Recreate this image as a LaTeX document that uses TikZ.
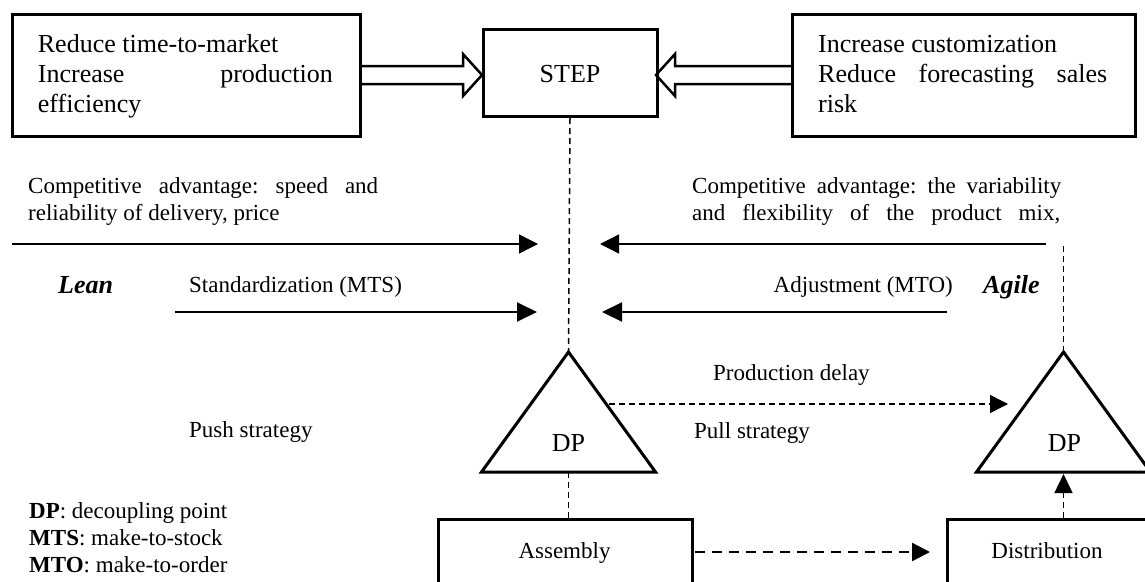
\documentclass[tikz,border=0pt]{standalone}
\usepackage{fontspec}
\setmainfont{Liberation Serif}
\frenchspacing
\usetikzlibrary{arrows.meta,calc}
\begin{document}
\begin{tikzpicture}[x=1pt,y=-1pt,
  frame/.style={draw, line width=3pt, inner sep=0pt, anchor=north west},
  big/.style={font=\fontsize{26}{30}\selectfont, inner sep=0pt},
  small/.style={font=\fontsize{23}{27}\selectfont, inner sep=0pt},
  bolditl/.style={font=\fontsize{26}{30}\selectfont\bfseries\itshape, inner sep=0pt},
  bw/.style={anchor=base west},
  blockarrow/.style={line width=2.5pt, line join=miter},
  thinarrow/.style={line width=1.4pt, -{Triangle[length=19pt,width=19pt]}},
  thickarrow/.style={line width=2pt, -{Triangle[length=20pt,width=19pt]}},
  dashline/.style={line width=1.5pt, dash pattern=on 6pt off 4pt},
  dashthick/.style={line width=2.3pt, dash pattern=on 10pt off 7pt},
  tri/.style={line width=3pt, line join=miter},
]
\fill[white] (0,0) rectangle (1145,581);
\useasboundingbox (0,0) rectangle (1145,581);
\clip (0,0) rectangle (1145,581);

% top boxes
\node[frame, minimum width=348pt, minimum height=122pt] (lbox) at (11,13) {};
\node[frame, minimum width=174pt, minimum height=87pt] (step) at (481.5,28) {};
\node[big] (steptxt) at ($(step.center)+(0,1)$) {STEP};
\node[frame, minimum width=343pt, minimum height=122pt] (rbox) at (791,13) {};

\node[big,bw] (l1) at (37.7,52) {Reduce time-to-market};
\node[big,bw] (l2) at (37.7,82) {\makebox[295pt][s]{Increase production}};
\node[big,bw] (l3) at (37.7,112) {efficiency};
\node[big,bw] (r1) at (818,52) {Increase customization};
\node[big,bw] (r2) at (818,82) {\makebox[289pt][s]{Reduce forecasting sales}};
\node[big,bw] (r3) at (818,112) {risk};

% block arrows
\draw[blockarrow] (359,66) -- (463,66) -- (463,54) -- (482,75) -- (463,96) -- (463,84) -- (359,84);
\draw[blockarrow] (791,66) -- (675,66) -- (675,54) -- (656,75) -- (675,96) -- (675,84) -- (791,84);

% competitive advantage texts
\node[small,bw] (ca1) at (28,193) {\makebox[350pt][s]{Competitive advantage: speed and}};
\node[small,bw] (ca2) at (28,220) {reliability of delivery, price};
\node[small,bw] (cb1) at (692,193) {\makebox[369pt][s]{Competitive advantage: the variability}};
\node[small,bw] (cb2) at (692,220) {\makebox[368pt][s]{and flexibility of the product mix,}};

% horizontal arrows
\coordinate (h1a) at (12,244);   \coordinate (h1b) at (538,244);
\coordinate (h1c) at (1046,244); \coordinate (h1d) at (600,244);
\coordinate (h2a) at (175,312);  \coordinate (h2b) at (537,312);
\coordinate (h2c) at (947,312);  \coordinate (h2d) at (602,312);
\draw[thinarrow] (h1a) -- (h1b);
\draw[thinarrow] (h1c) -- (h1d);
\draw[thickarrow] (h2a) -- (h2b);
\draw[thickarrow] (h2c) -- (h2d);

\node[bolditl,bw] (lean) at (58,293) {Lean};
\node[small,bw] (std) at (189,292) {Standardization (MTS)};
\node[small,anchor=base east] (adj) at (953,292) {Adjustment (MTO)};
\node[bolditl,bw] (agile) at (983,293) {Agile};

% triangles
\coordinate (a1) at (568.5,352);
\coordinate (bl1) at (481.5,472);
\coordinate (br1) at (655.5,472);
\coordinate (bm1) at (568.5,472);
\draw[tri] (a1) -- (bl1) -- (br1) -- cycle;
\node[big] (dp1) at (568.5,443.5) {DP};

\coordinate (a2) at (1063.5,352);
\coordinate (bl2) at (976.5,472);
\coordinate (br2) at (1150.5,472);
\coordinate (bm2) at (1063.5,472);
\draw[tri] (a2) -- (bl2) -- (br2) -- cycle;
\node[big] (dp2) at (1064.5,443.5) {DP};

% vertical dashed lines
\draw[dashline] (step.south) -- (a1);
\coordinate (agt) at (1063.5,246);
\draw[dashline] (agt) -- (a2);

% bottom boxes
\node[frame, minimum width=254pt, minimum height=110pt] (asm) at (437,518) {};
\node[small, anchor=base] (asmt) at (564.5,558) {Assembly};
\node[frame, minimum width=202pt, minimum height=110pt] (dist) at (946,518) {};
\node[small, anchor=base] (distt) at (1047,558) {Distribution};

\draw[dashline] (bm1) -- (bm1 |- asm.north);
\coordinate (upt) at (1063.5,474);
\draw[dashline, -{Triangle[length=19pt,width=18pt]}] (dist.north -| bm2) -- (upt);

% production delay arrow
\coordinate (pd) at (609,404);
\coordinate (pde) at (1008,404);
\draw[dashline, -{Triangle[length=18pt,width=18pt]}] (pd) -- (pde);
\node[small,bw] (prod) at (713,380) {Production delay};
\node[small,bw] (pull) at (694,438) {Pull strategy};
\node[small,bw] (push) at (189,437) {Push strategy};

% assembly -> distribution
\coordinate (ad1) at (695,552);
\coordinate (ad2) at (930,552);
\draw[dashthick, -{Triangle[length=18pt,width=18pt]}] (ad1) -- (ad2);

% legend
\node[small,bw] (lg1) at (29,518) {\textbf{DP}: decoupling point};
\node[small,bw] (lg2) at (29,545) {\textbf{MTS}: make-to-stock};
\node[small,bw] (lg3) at (29,572) {\textbf{MTO}: make-to-order};
\end{tikzpicture}
\end{document}
